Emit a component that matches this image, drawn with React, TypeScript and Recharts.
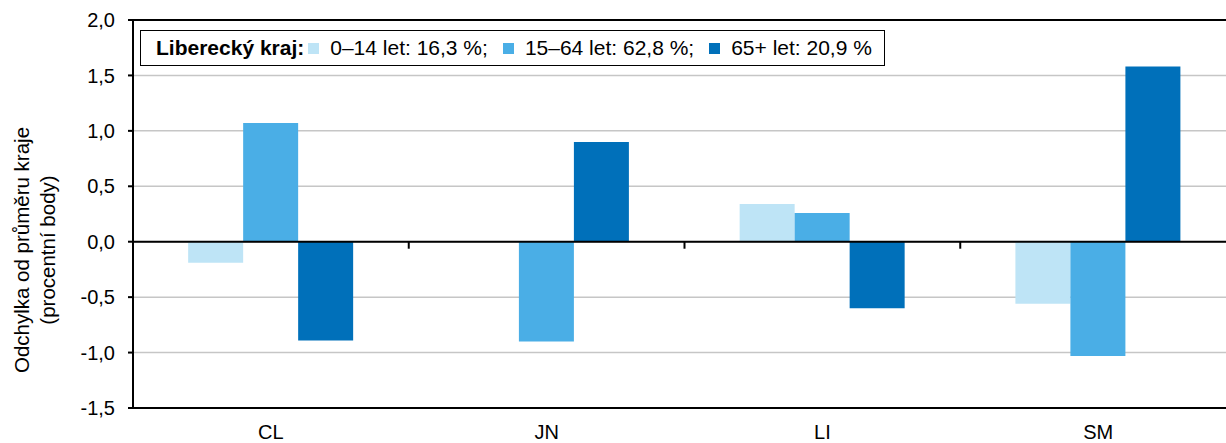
import React from 'react';
import { BarChart, Bar, XAxis, YAxis, CartesianGrid, ReferenceLine, Legend } from 'recharts';

const categories = ['CL', 'JN', 'LI', 'SM'];
const age0to14 = [-0.19, 0, 0.34, -0.56];
const age15to64 = [1.07, -0.9, 0.26, -1.03];
const age65plus = [-0.89, 0.9, -0.6, 1.58];
const yTicks = [-1.5, -1, -0.5, 0, 0.5, 1, 1.5, 2];
const legendTitle = 'Liberecký kraj:';
const seriesNames = ['0–14 let: 16,3 %;', '15–64 let: 62,8 %;', '65+ let: 20,9 %'];
const seriesColors = ['#BEE4F6', '#4AAEE6', '#0070BA'];
const yLabelLines = ['Odchylka od průměru kraje', '(procentní body)'];

const data = categories.map((cat, i) => ({
  cat,
  a: age0to14[i],
  b: age15to64[i],
  c: age65plus[i],
}));

const FONT = 'Liberation Sans, Arial, Helvetica, sans-serif';

const fmt = (v: number) => v.toFixed(1).replace('.', ',');

const LegendBox = () => (
  <div
    style={{
      boxSizing: 'border-box',
      width: 745,
      height: 36,
      border: '1.5px solid #000',
      background: '#fff',
      display: 'flex',
      alignItems: 'center',
      paddingLeft: 15,
      fontFamily: FONT,
      fontSize: 21,
      color: '#000',
      whiteSpace: 'nowrap',
    }}
  >
    <span style={{ fontWeight: 'bold', marginRight: 4 }}>{legendTitle}</span>
    {seriesNames.map((n, i) => (
      <React.Fragment key={n}>
        <span
          style={{
            display: 'inline-block',
            width: 11,
            height: 11,
            background: seriesColors[i],
            marginRight: 11,
            marginLeft: i === 0 ? 0 : 15,
          }}
        />
        <span>{n}</span>
      </React.Fragment>
    ))}
  </div>
);

const ZeroLine = (props: any) => {
  const { x1, y1, x2 } = props;
  const n = categories.length;
  const w = x2 - x1;
  return (
    <g>
      <line x1={x1} y1={y1} x2={x2} y2={y1} stroke="#000" strokeWidth={2} />
      {categories.slice(1).map((c, k) => (
        <line
          key={c}
          x1={x1 + (w * (k + 1)) / n}
          x2={x1 + (w * (k + 1)) / n}
          y1={y1}
          y2={y1 + 7}
          stroke="#000"
          strokeWidth={2}
        />
      ))}
    </g>
  );
};

const YLabel = (props: any) => {
  const vb = props.viewBox || { x: 0, y: 0, width: 0, height: 0 };
  const cy = vb.y + vb.height / 2 + 36;
  const offsets = [21, 47];
  return (
    <g>
      {yLabelLines.map((t, i) => (
        <text
          key={t}
          x={vb.x + offsets[i]}
          y={cy}
          transform={`rotate(-90, ${vb.x + offsets[i]}, ${cy})`}
          textAnchor="middle"
          dominantBaseline="central"
          fontFamily={FONT}
          fontSize={20.5}
          fill="#000"
        >
          {t}
        </text>
      ))}
    </g>
  );
};

export default function App() {
  return (
    <div
      style={{
        position: 'absolute',
        left: 0,
        top: 0,
        width: 1226,
        height: 443,
        overflow: 'hidden',
        background: '#fff',
      }}
    >
      <BarChart
        width={1236}
        height={443}
        data={data}
        margin={{ top: 20, right: 0, bottom: 0, left: 0 }}
        barCategoryGap="20%"
        barGap={0}
      >
        <CartesianGrid vertical={false} stroke="#C6C6C6" strokeWidth={1.5} />
        <XAxis
          dataKey="cat"
          height={35}
          axisLine={{ stroke: '#000', strokeWidth: 2 }}
          tickLine={false}
          tickSize={0}
          tickMargin={17}
          tick={{ fill: '#000', fontSize: 20, fontFamily: FONT }}
          interval={0}
        />
        <YAxis
          width={133}
          domain={[-1.5, 2]}
          ticks={yTicks}
          interval={0}
          tickFormatter={fmt}
          axisLine={{ stroke: '#000', strokeWidth: 2 }}
          tickLine={{ stroke: '#000', strokeWidth: 2 }}
          tickSize={5}
          tickMargin={13}
          tick={{ fill: '#000', fontSize: 20, fontFamily: FONT }}
          label={<YLabel />}
        />
        <ReferenceLine y={2} stroke="#000" strokeWidth={2} />
        <Legend
          layout="horizontal"
          verticalAlign="middle"
          align="center"
          wrapperStyle={{ top: 30, left: 140, width: 745, height: 36 }}
          content={() => <LegendBox />}
        />
        <Bar dataKey="a" name={seriesNames[0]} fill={seriesColors[0]} isAnimationActive={false} />
        <Bar dataKey="b" name={seriesNames[1]} fill={seriesColors[1]} isAnimationActive={false} />
        <Bar dataKey="c" name={seriesNames[2]} fill={seriesColors[2]} isAnimationActive={false} />
        <ReferenceLine y={0} shape={<ZeroLine />} />
      </BarChart>
    </div>
  );
}
